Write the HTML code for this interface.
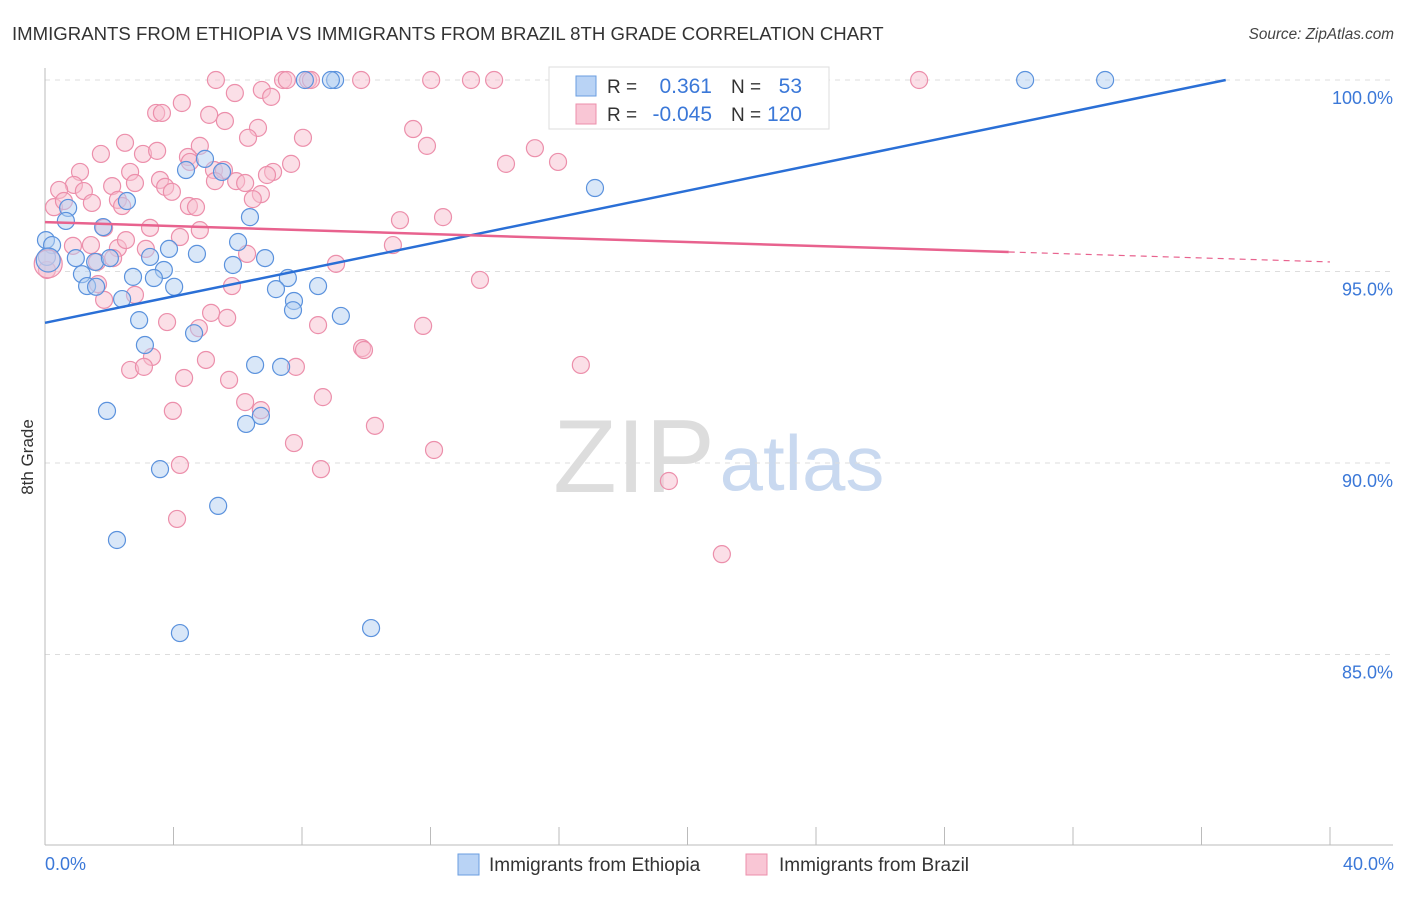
<!DOCTYPE html>
<html><head><meta charset="utf-8"><style>
body{margin:0;background:#fff;font-family:"Liberation Sans",sans-serif;}
svg text{font-family:"Liberation Sans",sans-serif;}
</style></head><body>
<svg id="chart" width="1406" height="892" viewBox="0 0 1406 892" xmlns="http://www.w3.org/2000/svg">
<text x="12" y="40" font-size="18.6" fill="#333">IMMIGRANTS FROM ETHIOPIA VS IMMIGRANTS FROM BRAZIL 8TH GRADE CORRELATION CHART</text>
<text x="1394" y="39" font-size="15.3" fill="#444" font-style="italic" text-anchor="end">Source: ZipAtlas.com</text>
<g>
<text x="634" y="492" font-size="104" fill="#ddd" font-family="Liberation Serif, serif" text-anchor="middle">ZIP</text>
<text x="802" y="490" font-size="78" fill="#c9d9f0" text-anchor="middle">atlas</text>
</g>
<g id="grid"></g>
<g id="axes"></g>
<g id="pts"></g>
<g id="lines"></g>
<text transform="translate(33,457) rotate(-90)" font-size="17" fill="#333" text-anchor="middle">8th Grade</text>
<text x="45" y="870" font-size="18" fill="#3b78d8">0.0%</text>
<text x="1394" y="870" font-size="18" fill="#3b78d8" text-anchor="end">40.0%</text>
<g>
<rect x="549" y="67" width="280" height="62" fill="#fff" stroke="#ddd"/>
<rect x="576" y="76" width="20" height="20" fill="#b9d3f5" stroke="#6a9ee0"/>
<rect x="576" y="104" width="20" height="20" fill="#f9c6d5" stroke="#ec8fab"/>
<text x="607" y="93" font-size="19" fill="#333">R =</text>
<text x="712" y="93" font-size="21" fill="#3b78d8" text-anchor="end">0.361</text>
<text x="731" y="93" font-size="19" fill="#333">N =</text>
<text x="802" y="93" font-size="21" fill="#3b78d8" text-anchor="end">53</text>
<text x="607" y="121" font-size="19" fill="#333">R =</text>
<text x="712" y="121" font-size="21" fill="#3b78d8" text-anchor="end">-0.045</text>
<text x="731" y="121" font-size="19" fill="#333">N =</text>
<text x="802" y="121" font-size="21" fill="#3b78d8" text-anchor="end">120</text>
</g>
<g>
<rect x="458" y="854" width="21" height="21" fill="#b9d3f5" stroke="#6a9ee0"/>
<text x="489" y="871" font-size="19" fill="#333">Immigrants from Ethiopia</text>
</g>
<g>
<rect x="746" y="854" width="21" height="21" fill="#f9c6d5" stroke="#ec8fab"/>
<text x="779" y="871" font-size="19" fill="#333">Immigrants from Brazil</text>
</g>
</svg>
<script>
const yTicks=[100,95,90,85];
const yTickLabels=["100.0%","95.0%","90.0%","85.0%"];
const xTicks=[0,4,8,12,16,20,24,28,32,36,40];
const blueX=[4.98,4.39,5.51,2.55,0.72,6.38,0.65,1.81,0.03,0.22,6.01,0.06,0.96,1.56,2.02,4.73,3.86,5.85,6.85,3.27,1.15,2.74,3.70,3.39,1.31,1.59,4.02,7.56,8.50,7.19,2.40,7.75,7.72,9.21,2.93,4.64,3.11,6.54,7.35,1.93,6.72,6.26,3.58,5.39,2.24,4.20,10.15,8.09,9.03,8.90,30.51,33.00,17.12,23.28];
const blueY=[97.94,97.65,97.60,96.84,96.66,96.42,96.32,96.16,95.82,95.69,95.77,95.38,95.35,95.25,95.35,95.46,95.59,95.17,95.35,95.38,94.93,94.86,95.04,94.83,94.62,94.60,94.60,94.83,94.62,94.54,94.28,94.23,93.99,93.84,93.73,93.39,93.08,92.56,92.51,91.36,91.23,91.02,89.84,88.88,87.99,85.56,85.69,100,100,100,100,100,97.18,100];
const pinkX=[5.32,7.41,7.53,8.19,8.28,9.84,12.02,13.26,13.98,16.22,27.21,5.91,6.75,4.26,7.04,3.46,3.64,5.11,5.60,6.63,8.03,11.46,6.32,2.49,4.82,11.89,15.25,1.74,3.05,3.49,4.45,4.51,5.26,15.97,14.35,7.66,1.09,2.65,5.57,7.10,5.29,5.95,6.23,6.91,3.58,0.90,2.09,2.80,3.74,0.44,1.21,3.95,6.72,2.27,2.40,1.46,0.28,0.59,4.48,4.70,6.47,12.39,11.05,3.27,4.20,1.84,4.82,0.87,1.43,2.27,2.52,3.14,10.83,6.29,9.06,0.06,1.62,2.12,13.54,5.82,2.80,1.84,1.65,5.17,5.67,3.80,4.79,8.50,11.77,9.87,9.93,3.33,5.01,2.65,3.08,7.81,16.68,4.33,5.73,8.65,6.23,3.98,6.72,10.27,7.75,12.11,4.20,8.59,19.42,4.11,21.07];
const pinkY=[100,100,100,100,100,100,100,100,100,100,100,99.66,99.74,99.40,99.56,99.14,99.14,99.09,98.93,98.75,98.49,98.72,98.49,98.36,98.28,98.28,98.22,98.07,98.07,98.15,97.99,97.86,97.65,97.86,97.81,97.81,97.60,97.60,97.65,97.60,97.36,97.36,97.31,97.52,97.39,97.26,97.23,97.31,97.21,97.13,97.10,97.08,97.02,96.87,96.71,96.79,96.68,96.84,96.71,96.68,96.89,96.42,96.34,96.14,95.90,96.14,96.08,95.67,95.69,95.61,95.82,95.59,95.69,95.46,95.20,95.04,95.25,95.35,94.78,94.62,94.39,94.26,94.67,93.92,93.79,93.68,93.52,93.60,93.58,93.00,92.95,92.77,92.69,92.43,92.51,92.51,92.56,92.22,92.17,91.72,91.59,91.36,91.38,90.97,90.52,90.34,89.95,89.84,89.53,88.54,87.62];
const bigBlue=[0.1,95.3];
const bigPink=[0.1,95.2];
const blueTrend=[93.66,0.1725];
const pinkTrend=[96.29,-0.026];
const pinkSolidEnd=30;

const NS="http://www.w3.org/2000/svg";
function sx(v){return 45+v*(1285/40);}
function sy(v){return 80+(100-v)*38.3;}
function mk(tag,attrs,parent){const e=document.createElementNS(NS,tag);for(const k in attrs)e.setAttribute(k,attrs[k]);parent.appendChild(e);return e;}
const grid=document.getElementById('grid'),axes=document.getElementById('axes'),pts=document.getElementById('pts'),lines=document.getElementById('lines');
yTicks.forEach((t,i)=>{
  const l=mk('line',{x1:45,x2:1393,y1:sy(t),y2:sy(t),stroke:'#ddd','stroke-dasharray':'5,5'},grid);
  
  
  const tx=mk('text',{x:1393,y:sy(t)+24,'font-size':18,fill:'#3b78d8','text-anchor':'end'},grid);
  tx.textContent=yTickLabels[i];
  
  
});
const ya=mk('line',{x1:45,x2:45,y1:68,y2:845,stroke:'#bbb'},axes);


const xa=mk('line',{x1:45,x2:1393,y1:845,y2:845,stroke:'#bbb'},axes);


xTicks.forEach(t=>{
  const l=mk('line',{x1:sx(t),x2:sx(t),y1:827,y2:845,stroke:'#bbb'},axes);
  
  
});
function dot(x,y,r,fill,stroke,name){
  const c=mk('circle',{cx:sx(x),cy:sy(y),r:r,fill:fill,'fill-opacity':0.5,stroke:stroke,'stroke-width':1.2},pts);
  
  
}
pinkX.forEach((x,i)=>dot(x,pinkY[i],8.5,'#f7bfcf','#ec8fab','brazil-point'));
blueX.forEach((x,i)=>dot(x,blueY[i],8.5,'#b4cff2','#5b92dd','ethiopia-point'));
dot(bigPink[0],bigPink[1],14,'#f7bfcf','#ec8fab','brazil-point');
dot(bigBlue[0],bigBlue[1],12,'#b4cff2','#5b92dd','ethiopia-point');
const bEnd=(100-blueTrend[0])/blueTrend[1];
const bl=mk('line',{x1:sx(0),y1:sy(blueTrend[0]),x2:sx(bEnd),y2:sy(100),stroke:'#2a6fd6','stroke-width':2.5},lines);


const pv=x=>pinkTrend[0]+pinkTrend[1]*x;
const pl=mk('line',{x1:sx(0),y1:sy(pv(0)),x2:sx(pinkSolidEnd),y2:sy(pv(pinkSolidEnd)),stroke:'#e8628e','stroke-width':2.5},lines);


const pd=mk('line',{x1:sx(pinkSolidEnd),y1:sy(pv(pinkSolidEnd)),x2:sx(40),y2:sy(pv(40)),stroke:'#e8628e','stroke-width':1.2,'stroke-dasharray':'6,5'},lines);


</script>
</body></html>
